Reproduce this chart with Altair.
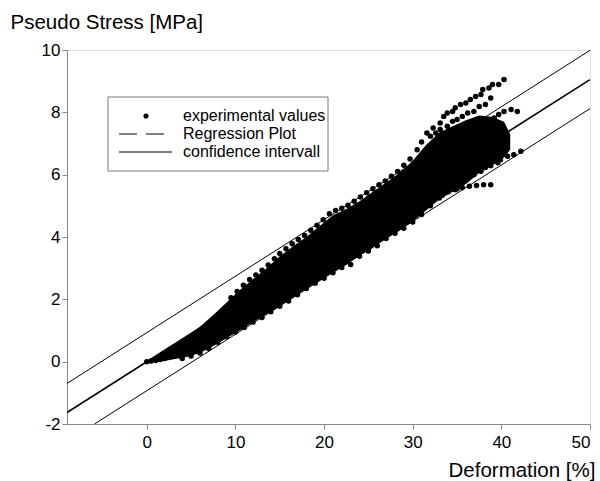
import altair as alt
import pandas as pd

# ---------------- data ----------------
# dense core of the experimental cloud (x, lower edge, upper edge)
core_x = [0, 1, 2, 3, 4.5, 6, 7.5, 9, 10.5, 12, 13.5, 15, 16.5, 18, 19.5, 21, 22.5, 24,
          25.5, 27, 28.5, 30, 31.5, 33, 34.5, 36, 37.5, 39, 40.3, 41]
core_lo = [0.0, 0.0, 0.02, 0.08, 0.15, 0.28, 0.5, 0.75, 1.0, 1.27, 1.52, 1.78, 2.05, 2.35,
           2.6, 2.85, 3.1, 3.4, 3.65, 3.95, 4.2, 4.5, 4.85, 5.2, 5.45, 5.7, 6.05, 6.3, 6.55, 6.8]
core_hi = [0.03, 0.17, 0.35, 0.52, 0.8, 1.12, 1.5, 1.9, 2.3, 2.65, 3.0, 3.38, 3.7, 4.0,
           4.35, 4.7, 4.9, 5.15, 5.45, 5.75, 6.05, 6.45, 6.95, 7.35, 7.55, 7.75, 7.9, 7.85, 7.7, 7.3]

# individual experimental points (edges and streaks)
origin_x = [0, 0.5, 1.0, 1.5, 2.0, 2.5, 3.0]
origin_y = [0.0, 0.02, 0.04, 0.07, 0.1, 0.14, 0.2]

top_x = [30.5, 31.0, 31.6, 32.3, 33.1, 33.5, 33.9, 34.5, 34.8, 35.4, 36.0, 36.5, 37.1,
         37.7, 37.9, 38.6, 39.0, 39.7, 40.3]
top_y = [6.80, 7.05, 7.34, 7.5, 7.66, 7.87, 7.98, 8.03, 8.15, 8.25, 8.30, 8.41, 8.51,
         8.57, 8.73, 8.78, 8.89, 8.89, 9.05]

second_x = [32.0, 32.6, 33.1, 33.9, 34.5, 35.0, 35.6, 36.2, 36.9, 37.5, 38.2, 38.8]
second_y = [7.23, 7.34, 7.45, 7.55, 7.71, 7.77, 7.87, 7.98, 8.03, 8.19, 8.25, 8.46]

third_x = [38.6, 39.2, 39.7, 40.3, 41.1, 41.8]
third_y = [7.77, 7.82, 7.93, 8.03, 8.09, 8.03]

lowci_x = [36.1, 36.9, 37.7, 38.2, 38.8, 39.6, 39.9, 40.7, 41.4, 42.2]
lowci_y = [5.91, 6.00, 6.11, 6.23, 6.29, 6.38, 6.48, 6.59, 6.64, 6.75]

lowest_x = [33.3, 34.0, 34.8, 35.6, 36.4, 37.2, 38.0, 38.8]
lowest_y = [5.33, 5.46, 5.52, 5.59, 5.63, 5.65, 5.68, 5.68]

upper_edge_x = [9.5, 10.2, 10.9, 11.6, 12.3, 13.0, 13.7, 14.4, 15.0, 15.7, 16.4, 17.1,
                17.8, 18.5, 19.2, 19.9, 20.6, 21.3, 22.0, 22.7, 23.4, 24.1, 24.8, 25.5,
                26.2, 26.9, 27.6, 28.3, 29.0, 29.7]
upper_edge_y = [2.05, 2.25, 2.45, 2.64, 2.78, 2.93, 3.1, 3.3, 3.47, 3.62, 3.78, 3.92,
                4.05, 4.22, 4.38, 4.55, 4.75, 4.85, 4.92, 5.02, 5.15, 5.28, 5.42, 5.55,
                5.68, 5.8, 5.95, 6.1, 6.3, 6.5]

lower_edge_x = [4, 5, 6, 7, 8, 9, 10, 11, 12, 13, 14, 15, 16, 17, 18, 19, 20, 21, 22, 23,
                24, 25, 26, 27, 28, 29, 30, 31, 32, 33, 34, 35]
lower_edge_y = [0.1, 0.18, 0.28, 0.42, 0.62, 0.8, 0.95, 1.1, 1.27, 1.42, 1.6, 1.78, 1.95,
                2.15, 2.35, 2.52, 2.68, 2.85, 3.02, 3.12, 3.38, 3.55, 3.72, 3.95, 4.12,
                4.28, 4.48, 4.72, 5.0, 5.25, 5.45, 5.55]

# regression line and confidence interval (end points)
reg_x = [-9, 50]
reg_y = [-1.63, 9.05]
ci_up_x = [-9, 50]
ci_up_y = [-0.70, 9.99]
ci_lo_x = [-5.9, 50]
ci_lo_y = [-2.0, 8.12]

x_ticks = [0, 10, 20, 30, 40, 50]
y_ticks = [-2, 0, 2, 4, 6, 8, 10]

legend_labels = ["experimental values", "Regression Plot", "confidence intervall"]

# ---------------- build tables ----------------
core_df = pd.DataFrame({"x": core_x, "lo": core_lo, "hi": core_hi})
pts_x = origin_x + top_x + second_x + third_x + lowci_x + lowest_x + upper_edge_x + lower_edge_x
pts_y = origin_y + top_y + second_y + third_y + lowci_y + lowest_y + upper_edge_y + lower_edge_y
pts_df = pd.DataFrame({"x": pts_x, "y": pts_y})
reg_df = pd.DataFrame({"x": reg_x, "y": reg_y})
up_df = pd.DataFrame({"x": ci_up_x, "y": ci_up_y})
lo_df = pd.DataFrame({"x": ci_lo_x, "y": ci_lo_y})

FONT = "Liberation Sans"
W, H = 523, 374

xscale = alt.Scale(domain=[-9, 50], nice=False, zero=False)
yscale = alt.Scale(domain=[-2, 10], nice=False, zero=False)

xaxis = alt.Axis(values=x_ticks, title="Deformation [%]", grid=False,
                 labelExpr="'' + datum.value",
                 titleAlign="right", titleAnchor="end", titleX=528, titleY=52,
                 titleBaseline="alphabetic", labelPadding=5, labelFontSize=17,
                 titleFontSize=20.5, titleFontWeight="normal")
yaxis = alt.Axis(values=y_ticks, title="Pseudo Stress [MPa]", grid=False,
                 labelExpr="'' + datum.value",
                 titleAngle=0, titleAlign="left", titleX=-57, titleY=-22,
                 titleBaseline="alphabetic", labelPadding=2, labelFontSize=17,
                 titleFontSize=20.5, titleFontWeight="normal")

X = alt.X("x:Q", scale=xscale, axis=xaxis)
Y = alt.Y("y:Q", scale=yscale, axis=yaxis)

core = alt.Chart(core_df).mark_area(color="black", clip=True).encode(
    x=alt.X("x:Q", scale=xscale, axis=xaxis),
    y=alt.Y("lo:Q", scale=yscale, axis=yaxis),
    y2="hi:Q",
)
points = alt.Chart(pts_df).mark_circle(color="black", size=30, opacity=1, clip=True).encode(x=X, y=Y)
reg = alt.Chart(reg_df).mark_line(color="black", strokeWidth=1.6, clip=True).encode(x=X, y=Y)
up = alt.Chart(up_df).mark_line(color="black", strokeWidth=1.0, clip=True).encode(x=X, y=Y)
lo = alt.Chart(lo_df).mark_line(color="black", strokeWidth=1.0, clip=True).encode(x=X, y=Y)

one = pd.DataFrame({"k": [0]})
leg_box = alt.Chart(one).mark_rect(fill="white", stroke="#777", strokeWidth=1).encode(
    x=alt.value(41), x2=alt.value(261), y=alt.value(47), y2=alt.value(121))
leg_dot = alt.Chart(one).mark_circle(color="black", size=26, opacity=1).encode(
    x=alt.value(79), y=alt.value(66))
leg_dash = alt.Chart(one).mark_rule(color="black", strokeWidth=1.2, strokeDash=[18, 9]).encode(
    x=alt.value(52), x2=alt.value(99), y=alt.value(84))
leg_solid = alt.Chart(one).mark_rule(color="black", strokeWidth=1.2).encode(
    x=alt.value(52), x2=alt.value(105), y=alt.value(102))
leg_texts = [
    alt.Chart(one).mark_text(align="left", baseline="middle", font=FONT, fontSize=16,
                             color="black").encode(
        x=alt.value(116), y=alt.value(yy), text=alt.value(lbl))
    for lbl, yy in zip(legend_labels, [66, 84, 102])
]

chart = alt.layer(core, points, reg, up, lo, leg_box, leg_dot, leg_dash, leg_solid,
                  *leg_texts).properties(
    width=W, height=H,
    autosize=alt.AutoSizeParams(type="none"),
    padding={"left": 67, "top": 50, "right": 10, "bottom": 57},
).configure_view(
    stroke="#555", strokeWidth=1.5
).configure_axis(
    domainColor="#555", domainWidth=1.5, tickColor="#555", tickWidth=1.5, tickSize=5,
    labelColor="black", titleColor="black", labelFont=FONT, titleFont=FONT,
).configure(background="white")

chart.save("out.html", embed_options={"renderer": "svg", "actions": False})
